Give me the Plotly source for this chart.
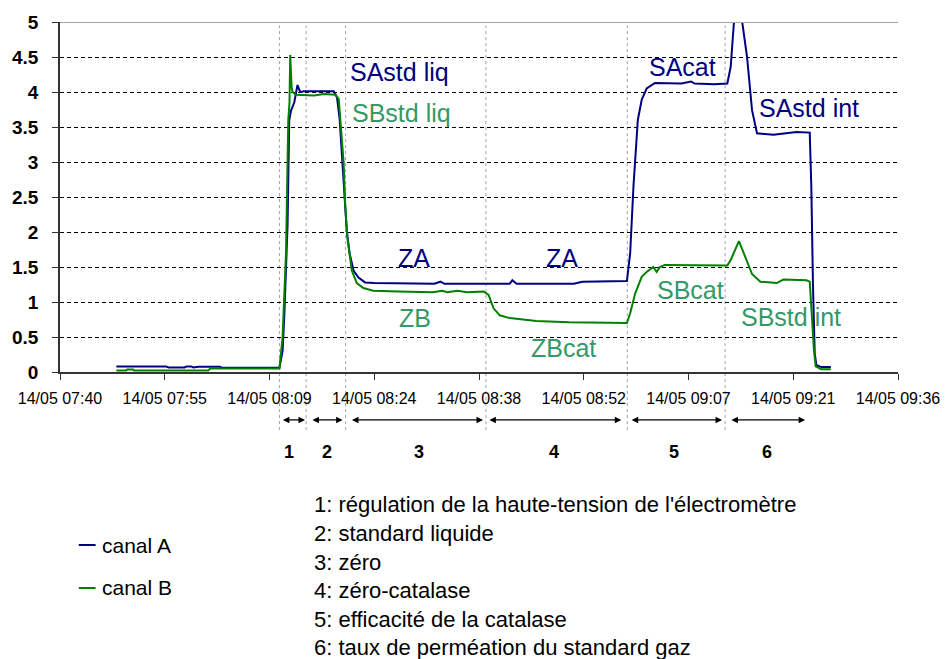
import plotly.graph_objects as go

DAY = "2006-05-14"

# canal A (bleu)
TIME_A = ["07:48:33", "07:55:20", "07:55:45", "07:57:55", "07:58:11", "07:58:52", "07:59:08",
          "07:59:49", "08:02:48", "08:03:05", "08:10:58", "08:11:24", "08:11:38", "08:12:05",
          "08:12:19", "08:12:33", "08:13:00", "08:13:27", "08:13:49", "08:14:21", "08:18:26",
          "08:18:53", "08:19:15", "08:19:34", "08:19:53", "08:20:14", "08:20:36", "08:21:09",
          "08:21:50", "08:22:44", "08:24:00", "08:32:15", "08:33:06", "08:33:39", "08:42:37",
          "08:42:59", "08:43:34", "08:51:26", "08:52:37", "08:58:44", "08:59:11", "08:59:38",
          "09:00:14", "09:00:46", "09:01:27", "09:02:35", "09:06:13", "09:07:34", "09:08:01",
          "09:10:44", "09:12:32", "09:13:00", "09:13:27", "09:14:00", "09:14:35", "09:15:15",
          "09:15:56", "09:16:37", "09:18:53", "09:19:48", "09:22:03",
          "09:23:52", "09:24:05", "09:24:19", "09:24:33", "09:24:46", "09:25:27", "09:26:46"]
CANAL_A = [0.08, 0.08, 0.065, 0.065, 0.08, 0.08, 0.065,
           0.075, 0.075, 0.06, 0.06, 0.3, 0.8, 2.1,
           3.6, 3.73, 3.85, 4.1, 4.0, 4.01, 4.01,
           3.92, 3.6, 3.1, 2.65, 2.0, 1.7, 1.45,
           1.35, 1.28, 1.27, 1.26, 1.29, 1.26, 1.26,
           1.31, 1.26, 1.26, 1.29, 1.30, 1.70, 2.65,
           3.6, 3.89, 4.05, 4.13, 4.12, 4.15, 4.12,
           4.11, 4.12, 4.36, 5.0, 5.35, 5.0, 4.5,
           3.74, 3.41, 3.39, 3.40, 3.43,
           3.42, 2.65, 1.22, 0.27, 0.10, 0.07, 0.07]

# canal B (vert)
TIME_B = ["07:48:33", "07:49:54", "07:50:02", "07:50:51", "07:50:59", "08:01:11", "08:01:27",
          "08:10:58", "08:11:24", "08:11:52", "08:12:03", "08:12:11", "08:12:21", "08:12:27",
          "08:12:38", "08:12:46", "08:13:14", "08:15:43", "08:17:04", "08:18:40", "08:19:07",
          "08:19:25", "08:19:47", "08:20:01", "08:20:20", "08:20:55", "08:21:36", "08:22:30",
          "08:23:52", "08:27:16", "08:32:01", "08:33:22", "08:34:03", "08:35:25", "08:36:46",
          "08:39:02", "08:39:43", "08:40:24", "08:41:15", "08:42:37", "08:46:17", "08:50:46",
          "08:55:23", "08:58:44", "08:59:11", "08:59:52", "09:00:46", "09:01:27", "09:02:21",
          "09:02:49", "09:03:16", "09:03:56", "09:12:32", "09:13:00", "09:14:08", "09:14:48",
          "09:15:56", "09:17:05", "09:19:20", "09:20:15", "09:23:24", "09:23:52", "09:24:11",
          "09:24:27", "09:24:41", "09:25:27", "09:26:46"]
CANAL_B = [0.02, 0.02, 0.035, 0.035, 0.02, 0.02, 0.05,
           0.05, 0.5, 1.7, 2.8, 3.6, 3.85, 4.53,
           4.08, 4.0, 3.96, 3.95, 3.97, 3.96, 3.9,
           3.45, 3.0, 2.35, 1.9, 1.45, 1.27, 1.2,
           1.16, 1.15, 1.14, 1.16, 1.14, 1.16, 1.14,
           1.15, 1.1, 0.91, 0.81, 0.77, 0.73, 0.71,
           0.70, 0.70, 0.84, 1.12, 1.36, 1.43, 1.50,
           1.43, 1.50, 1.53, 1.52, 1.6, 1.87, 1.70,
           1.40, 1.29, 1.27, 1.32, 1.31, 1.29, 0.74,
           0.31, 0.08, 0.04, 0.04]

# axe des temps
X_RANGE = ["07:40:48", "09:36:00"]
TICK_TIMES = ["07:40:48", "07:55:12", "08:09:36", "08:24:00", "08:38:24",
              "08:52:48", "09:07:12", "09:21:36", "09:36:00"]
TICK_LABELS = ["14/05 07:40", "14/05 07:55", "14/05 08:09", "14/05 08:24", "14/05 08:38",
               "14/05 08:52", "14/05 09:07", "14/05 09:21", "14/05 09:36"]

# phases de la mesure
PHASE_BOUNDS = ["08:10:58", "08:14:38", "08:20:04", "08:39:21", "08:58:47", "09:12:14"]
PHASE_ARROWS = [("08:11:14", "08:14:29"), ("08:15:18", "08:19:39"), ("08:20:44", "08:38:57"),
                ("08:39:37", "08:57:58"), ("08:59:11", "09:11:49"), ("09:12:54", "09:23:14")]
PHASE_NUMBERS = ["1", "2", "3", "4", "5", "6"]
PHASE_NUMBER_TIMES = ["08:12:19", "08:17:29", "08:30:07", "08:48:44", "09:05:10", "09:17:56"]
PHASE_TEXT = ["1: régulation de la haute-tension de l'électromètre",
              "2: standard liquide",
              "3: zéro",
              "4: zéro-catalase",
              "5: efficacité de la catalase",
              "6: taux de perméation du standard gaz"]

# étiquettes des paliers : (texte, temps, valeur, canal)
LEVEL_LABELS = [("SAstd liq", "08:27:32", 4.29, "A"), ("SBstd liq", "08:27:48", 3.70, "B"),
                ("ZA", "08:29:26", 1.63, "A"), ("ZA", "08:49:49", 1.63, "A"),
                ("ZB", "08:29:34", 0.77, "B"), ("ZBcat", "08:50:05", 0.34, "B"),
                ("SAcat", "09:06:23", 4.36, "A"), ("SAstd int", "09:23:47", 3.77, "A"),
                ("SBcat", "09:07:28", 1.17, "B"), ("SBstd int", "09:21:20", 0.79, "B")]

SERIES_NAMES = ["canal A", "canal B"]

BLUE = "#000080"
GREEN = "#008000"
TEXT_COLORS = {"A": "#000080", "B": "#339966"}
FONT = "Liberation Sans"


def ts(t):
    return f"{DAY} {t}"


fig = go.Figure()
fig.add_trace(go.Scatter(x=[ts(t) for t in TIME_A], y=CANAL_A, mode="lines",
                         name=SERIES_NAMES[0], line=dict(color=BLUE, width=2)))
fig.add_trace(go.Scatter(x=[ts(t) for t in TIME_B], y=CANAL_B, mode="lines",
                         name=SERIES_NAMES[1], line=dict(color=GREEN, width=2)))

shapes = []
# trait gris en haut de la zone de tracé
shapes.append(dict(type="line", xref="paper", yref="y", x0=0, x1=1, y0=5, y1=5,
                   line=dict(color="#a6a6a6", width=2), layer="above"))
# limites des phases
for t in PHASE_BOUNDS:
    shapes.append(dict(type="line", xref="x", yref="paper", x0=ts(t), x1=ts(t),
                       y0=-0.166, y1=0.99, line=dict(color="#a0a0a0", width=1, dash="dot"),
                       layer="below"))

annotations = []
for t0, t1 in PHASE_ARROWS:
    annotations.append(dict(x=ts(t1), y=-0.137, xref="x", yref="paper",
                            ax=ts(t0), ay=0, axref="x", ayref="pixel",
                            text="", showarrow=True, arrowside="end+start",
                            arrowhead=2, startarrowhead=2, arrowsize=1, startarrowsize=1,
                            arrowwidth=1.3, arrowcolor="black"))
for n, t in zip(PHASE_NUMBERS, PHASE_NUMBER_TIMES):
    annotations.append(dict(x=ts(t), y=-0.229, xref="x", yref="paper", text=n,
                            showarrow=False, yanchor="middle",
                            font=dict(size=18, color="black", family=FONT, weight="bold")))
for txt, t, v, ch in LEVEL_LABELS:
    annotations.append(dict(x=ts(t), y=v, xref="x", yref="y", text=txt, showarrow=False,
                            font=dict(size=25, color=TEXT_COLORS[ch], family=FONT)))

# liste des phases
list_y = [-0.380, -0.460, -0.543, -0.623, -0.706, -0.786]
for txt, yy in zip(PHASE_TEXT, list_y):
    annotations.append(dict(x=0.3007, y=yy, xref="paper", yref="paper", text=txt,
                            showarrow=False, xanchor="left", yanchor="middle",
                            font=dict(size=22, color="black", family=FONT)))

# légende
legend_y = [-0.4943, -0.6171]
for name, color, yy in zip(SERIES_NAMES, [BLUE, GREEN], legend_y):
    shapes.append(dict(type="line", xref="paper", yref="paper", x0=0.0224, x1=0.0425,
                       y0=yy, y1=yy, line=dict(color=color, width=2)))
    annotations.append(dict(x=0.0472, y=yy, xref="paper", yref="paper", text=name,
                            showarrow=False, xanchor="left", yanchor="middle",
                            font=dict(size=21, color="black", family=FONT)))

fig.update_layout(
    width=952, height=659,
    margin=dict(l=58, r=46, t=22, b=287),
    paper_bgcolor="white", plot_bgcolor="white",
    showlegend=False,
    font=dict(family=FONT, color="black", size=15),
    shapes=shapes, annotations=annotations,
    xaxis=dict(type="date", range=[ts(X_RANGE[0]), ts(X_RANGE[1])],
               tickmode="array",
               tickvals=[ts(t) for t in TICK_TIMES], ticktext=TICK_LABELS,
               ticks="outside", ticklen=6, tickcolor="#333333", tickwidth=1,
               showline=True, linecolor="#333333", linewidth=1.5,
               showgrid=False, zeroline=False, tickangle=0,
               tickfont=dict(size=16, color="black", family=FONT),
               ticklabelstandoff=5),
    yaxis=dict(range=[0, 5], tickvals=[0, 0.5, 1, 1.5, 2, 2.5, 3, 3.5, 4, 4.5, 5],
               ticktext=["0", "0.5", "1", "1.5", "2", "2.5", "3", "3.5", "4", "4.5", "5"],
               ticks="outside", ticklen=6, tickcolor="#333333", tickwidth=1,
               showline=True, linecolor="#333333", linewidth=1.5,
               showgrid=True, gridcolor="black", gridwidth=1, griddash="4px,3px",
               zeroline=False,
               tickfont=dict(size=19, color="black", family=FONT, weight="bold"),
               ticklabelstandoff=10),
)

fig.write_html("out.html")
